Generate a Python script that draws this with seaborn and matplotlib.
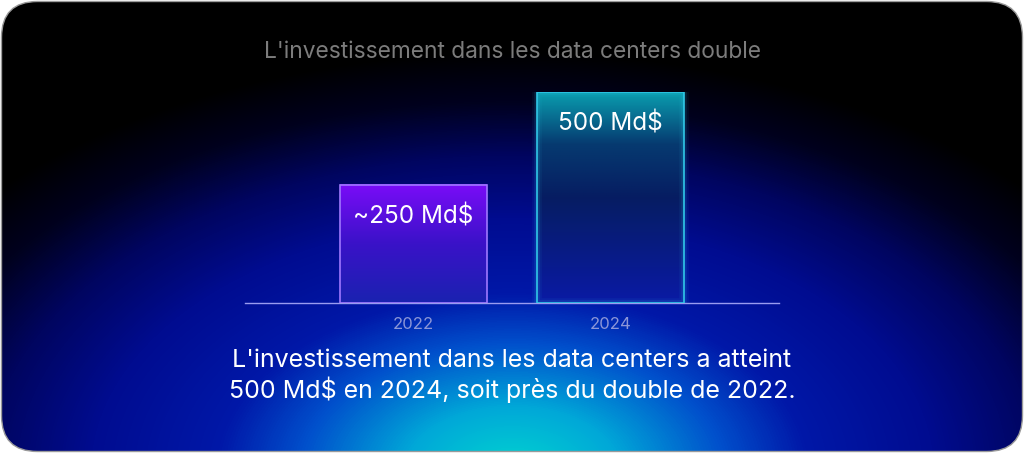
# Data center investment card - bar chart with glow background
import numpy as np
import pandas as pd
import seaborn as sns
import matplotlib.pyplot as plt
from matplotlib.colors import LinearSegmentedColormap, to_rgba
from matplotlib.patches import FancyBboxPatch

plt.switch_backend('Agg')
plt.rcParams['font.family'] = ['Inter', 'DejaVu Sans']

# Data
years = ['2022', '2024']
invest = [280, 500]
bar_labels = ['~250 Md$', '500 Md$']
title = "L'investissement dans les data centers double"
caption = ("L'investissement dans les data centers a atteint\n"
           "500 Md$ en 2024, soit près du double de 2022.")

W, H = 1024, 453


def gradient_rgba(stops, n=256):
    """Vertical gradient (top -> bottom) as an RGBA column."""
    pos = np.linspace(0, 1, n)
    cols = np.array([to_rgba(c) for _, c in stops])
    ps = np.array([p for p, _ in stops])
    out = np.stack([np.interp(pos, ps, cols[:, k]) for k in range(4)], axis=1)
    return out[:, None, :]


def draw_background(fig):
    bg = fig.add_axes([0, 0, 1, 1])
    bg.set_xlim(0, W)
    bg.set_ylim(H, 0)
    bg.axis('off')
    yy, xx = np.mgrid[0:H, 0:W]
    d = np.sqrt(((xx - 512) / 700) ** 2 + ((yy - 470) / 420) ** 2)
    cmap = LinearSegmentedColormap.from_list('glow', [
        (0.0, '#00d4d0'), (0.15, '#00a8d8'), (0.3, '#0050cc'),
        (0.42, '#0018a8'), (0.6, '#000c90'), (0.75, '#000560'),
        (0.88, '#00011e'), (1.0, '#000000')])
    img = bg.imshow(np.clip(d, 0, 1), cmap=cmap, vmin=0, vmax=1,
                    extent=(0, W, H, 0), aspect='auto',
                    interpolation='bilinear')
    card = FancyBboxPatch((1.5, 1.5), W - 3, H - 3,
                          boxstyle='round,pad=0,rounding_size=36',
                          fc='none', ec='#9a9a9a', lw=1)
    bg.add_patch(card)
    img.set_clip_path(card)


def main():
    fig = plt.figure(figsize=(W / 100, H / 100), dpi=100)
    fig.patch.set_facecolor('white')
    draw_background(fig)

    ax = fig.add_axes([245 / W, (H - 303) / H, 534 / W, (303 - 92) / H])
    df = pd.DataFrame({'year': years, 'value': invest})
    sns.barplot(data=df, x='year', y='value', hue='year',
                palette=['#5a10e0', '#0a60a0'], legend=False,
                width=0.746, saturation=1, ax=ax)
    ax.patch.set_alpha(0)
    for s in ['top', 'right', 'left']:
        ax.spines[s].set_visible(False)
    ax.spines['bottom'].set_color('#9a9cf0')
    ax.spines['bottom'].set_linewidth(1)
    ax.set_yticks([])
    ax.set_xlabel('')
    ax.set_ylabel('')
    ax.tick_params(axis='x', length=0, pad=10, labelsize=12,
                   labelcolor='#8c96d8')

    grads = [
        [(0, '#7a0cf8'), (0.5, '#3a12c8'), (1, '#1a22b0')],
        [(0, '#0a9fb0'), (0.25, '#063a70'), (0.5, '#061d62'), (1, '#0a1aa5')],
    ]
    edges = ['#a078ff', '#30c8e8']
    for patch, g, ec, lab in zip(ax.patches, grads, edges, bar_labels):
        x0, w, h = patch.get_x(), patch.get_width(), patch.get_height()
        ax.imshow(gradient_rgba(g), extent=(x0, x0 + w, 0, h),
                  aspect='auto', origin='upper', zorder=2,
                  interpolation='bilinear')
        patch.set_facecolor('none')
        patch.set_edgecolor(ec)
        patch.set_linewidth(1.2)
        patch.set_zorder(3)
        if ec == '#30c8e8':
            for lw, a in [(7, 0.06), (4, 0.12)]:
                ax.add_patch(plt.Rectangle((x0, 0), w, h, fc='none', ec=ec,
                                           lw=lw, alpha=a, zorder=2.5))
        ax.annotate(lab, (x0 + w / 2, h), xytext=(0, -23),
                    textcoords='offset points', ha='center', va='center',
                    color='white', fontsize=17.5, zorder=4)
    ax.set_xlim(-0.855, 1.855)
    ax.set_ylim(0, 500)

    fig.text(0.5, 1 - 52 / H, title, color='#7c7c7c', fontsize=16.4,
             ha='center', va='center')
    fig.text(0.5, 1 - 376 / H, caption, color='white', fontsize=18,
             ha='center', va='center', linespacing=1.2)

    fig.savefig('out.png', dpi=100)
    plt.close(fig)


if __name__ == "__main__":
    main()
